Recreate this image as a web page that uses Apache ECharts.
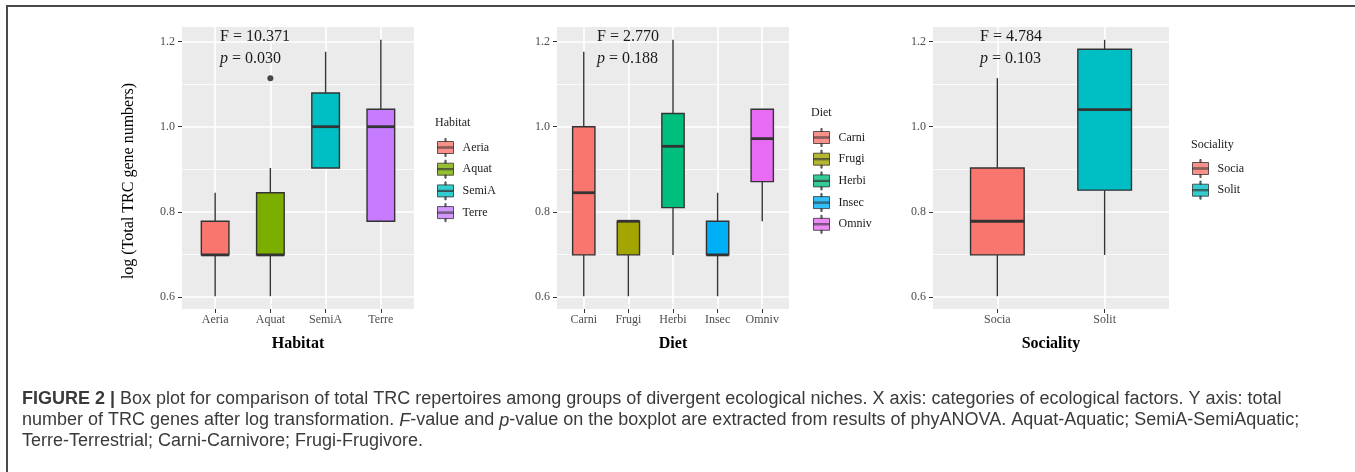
<!DOCTYPE html>
<html><head><meta charset="utf-8">
<script src="https://cdn.jsdelivr.net/npm/echarts@6/dist/echarts.min.js"></script>
<style>
html,body{margin:0;padding:0;background:#fff;}
#c{position:absolute;left:0;top:0;width:1355px;height:472px;}
#frame{position:absolute;left:6px;top:5px;width:1349px;height:467px;border-top:2px solid #4a4a4a;border-left:2px solid #4a4a4a;pointer-events:none;box-sizing:border-box;}
</style></head><body>
<div id="c"></div><div id="frame"></div>
<script>
// ---------- data ----------
const yTicks = [0.6, 0.8, 1.0, 1.2];
const yMinorTicks = [0.7, 0.9, 1.1];

const habitatCats   = ['Aeria', 'Aquat', 'SemiA', 'Terre'];
const habitatMin    = [0.602, 0.602, 0.903, 0.778];
const habitatQ1     = [0.699, 0.699, 0.903, 0.778];
const habitatMedian = [0.699, 0.699, 1.000, 1.000];
const habitatQ3     = [0.778, 0.845, 1.079, 1.041];
const habitatMax    = [0.845, 0.903, 1.176, 1.204];
const habitatOutlierCats   = ['Aquat'];
const habitatOutlierValues = [1.114];
const habitatF = '10.371', habitatP = '0.030';

const dietCats   = ['Carni', 'Frugi', 'Herbi', 'Insec', 'Omniv'];
const dietMin    = [0.602, 0.602, 0.699, 0.602, 0.778];
const dietQ1     = [0.699, 0.699, 0.810, 0.699, 0.871];
const dietMedian = [0.845, 0.778, 0.954, 0.699, 0.972];
const dietQ3     = [1.000, 0.778, 1.031, 0.778, 1.041];
const dietMax    = [1.176, 0.778, 1.204, 0.845, 1.041];
const dietF = '2.770', dietP = '0.188';

const socialCats   = ['Socia', 'Solit'];
const socialMin    = [0.602, 0.699];
const socialQ1     = [0.699, 0.851];
const socialMedian = [0.778, 1.040];
const socialQ3     = [0.903, 1.182];
const socialMax    = [1.114, 1.204];
const socialF = '4.784', socialP = '0.103';

// ---------- styling ----------
const habitatColors = ['#F8766D', '#7CAE00', '#00BFC4', '#C77CFF'];
const dietColors    = ['#F8766D', '#A3A500', '#00BF7D', '#00B0F6', '#E76BF3'];
const socialColors  = ['#F8766D', '#00BFC4'];
const SERIF = 'Liberation Serif';
const SANS = 'Liberation Sans';
const Y_MIN = 0.572, Y_MAX = 1.2341;
const STROKE = '#333333';
const legendIcon = 'path://M1 3 H17 V15 H1 Z M1 8.4 H17 V9.6 H1 Z M8.4 0 H9.6 V3 H8.4 Z M8.4 15 H9.6 V18 H8.4 Z';

const panels = [
  {cats: habitatCats, mn: habitatMin, q1: habitatQ1, md: habitatMedian, q3: habitatQ3, mx: habitatMax, colors: habitatColors,
   grid: {left: 182, top: 27, width: 232, height: 282}, name: 'Habitat', F: habitatF, P: habitatP,
   statPos: {left: 220, top: 25}, legendPos: {left: 437, top: 138}, legendTitlePos: {left: 435, top: 117}},
  {cats: dietCats, mn: dietMin, q1: dietQ1, md: dietMedian, q3: dietQ3, mx: dietMax, colors: dietColors,
   grid: {left: 557, top: 27, width: 232, height: 282}, name: 'Diet', F: dietF, P: dietP,
   statPos: {left: 597, top: 25}, legendPos: {left: 813, top: 128}, legendTitlePos: {left: 811, top: 107}},
  {cats: socialCats, mn: socialMin, q1: socialQ1, md: socialMedian, q3: socialQ3, mx: socialMax, colors: socialColors,
   grid: {left: 933, top: 27, width: 236, height: 282}, name: 'Sociality', F: socialF, P: socialP,
   statPos: {left: 980, top: 25}, legendPos: {left: 1192, top: 159}, legendTitlePos: {left: 1191, top: 139}}
];

function renderBox(colors) {
  return function (params, api) {
    const x = api.value(0);
    const lo = api.coord([x, api.value(1)]);
    const q1 = api.coord([x, api.value(2)]);
    const md = api.coord([x, api.value(3)]);
    const q3 = api.coord([x, api.value(4)]);
    const hi = api.coord([x, api.value(5)]);
    const w = api.size([0.5, 0])[0];
    const cx = q1[0];
    return {type: 'group', children: [
      {type: 'line', shape: {x1: cx, y1: lo[1], x2: cx, y2: q1[1]}, style: {stroke: STROKE, lineWidth: 1.4}},
      {type: 'line', shape: {x1: cx, y1: q3[1], x2: cx, y2: hi[1]}, style: {stroke: STROKE, lineWidth: 1.4}},
      {type: 'rect', shape: {x: cx - w / 2, y: q3[1], width: w, height: q1[1] - q3[1]},
       style: {fill: colors[params.dataIndex], stroke: STROKE, lineWidth: 1.4}},
      {type: 'line', shape: {x1: cx - w / 2, y1: md[1], x2: cx + w / 2, y2: md[1]}, style: {stroke: STROKE, lineWidth: 2.8}}
    ]};
  };
}

const grids = [], xAxes = [], yAxes = [], series = [], legends = [], titles = [];
panels.forEach((p, k) => {
  grids.push(Object.assign({show: true, backgroundColor: '#EBEBEB', borderWidth: 0, containLabel: false, outerBoundsMode: 'none'}, p.grid));
  const xs = p.cats.map((c, i) => i + 1);
  xAxes.push({
    type: 'value', gridIndex: k, min: 0.4, max: p.cats.length + 0.6,
    axisLine: {show: false}, splitLine: {show: false},
    axisTick: {show: true, customValues: xs, length: 4, lineStyle: {color: STROKE, width: 1}},
    axisLabel: {show: true, customValues: xs, margin: 5, fontFamily: SERIF, fontSize: 12, color: '#4D4D4D',
      formatter: v => p.cats[Math.round(v) - 1] || ''},
    name: p.name, nameLocation: 'middle', nameGap: 27,
    nameTextStyle: {fontFamily: SERIF, fontSize: 16, fontWeight: 'bold', color: '#000'}
  });
  const yAx = {
    type: 'value', gridIndex: k, min: Y_MIN, max: Y_MAX,
    axisLine: {show: false}, splitLine: {show: false},
    axisTick: {show: true, customValues: yTicks, length: 4, lineStyle: {color: STROKE, width: 1}},
    axisLabel: {show: true, customValues: yTicks, margin: 7, fontFamily: SERIF, fontSize: 12, color: '#4D4D4D',
      formatter: v => v.toFixed(1)}
  };
  if (k === 0) {
    yAx.name = 'log (Total TRC gene numbers)';
    yAx.nameLocation = 'middle';
    yAx.nameRotate = 90;
    yAx.nameGap = 45;
    yAx.nameTextStyle = {fontFamily: SERIF, fontSize: 16, color: '#000', padding: [0, 26, 0, 0]};
  }
  yAxes.push(yAx);

  // gridlines + boxes
  series.push({
    type: 'custom', xAxisIndex: k, yAxisIndex: k, z: 3, silent: true,
    renderItem: renderBox(p.colors),
    encode: {x: 0, y: [1, 2, 3, 4, 5]},
    data: p.cats.map((c, i) => [i + 1, p.mn[i], p.q1[i], p.md[i], p.q3[i], p.mx[i]]),
    markLine: {
      silent: true, z: 1, symbol: ['none', 'none'], label: {show: false}, emphasis: {disabled: true},
      lineStyle: {color: '#FFFFFF', type: 'solid'}, animation: false,
      data: [
        ...yTicks.map(v => ({yAxis: v, lineStyle: {width: 1.6, color: '#fff', type: 'solid'}})),
        ...yMinorTicks.map(v => ({yAxis: v, lineStyle: {width: 0.8, color: '#fff', type: 'solid'}})),
        ...xs.map(v => ({xAxis: v, lineStyle: {width: 1.6, color: '#fff', type: 'solid'}}))
      ]
    }
  });
  // legend dummy series
  p.cats.forEach((c, i) => {
    series.push({type: 'scatter', name: c, xAxisIndex: k, yAxisIndex: k, data: [], itemStyle: {color: p.colors[i]}});
  });
  legends.push({
    left: p.legendPos.left, top: p.legendPos.top, orient: 'vertical', padding: 0,
    itemWidth: 18, itemHeight: 18, itemGap: 2.7, selectedMode: false,
    icon: legendIcon, itemStyle: {borderColor: STROKE, borderWidth: 1},
    textStyle: {fontFamily: SERIF, fontSize: 12, color: '#1a1a1a', padding: [0, 0, 0, 3]},
    data: p.cats
  });
  titles.push({
    left: p.legendTitlePos.left, top: p.legendTitlePos.top, padding: 0, text: p.name,
    textStyle: {fontFamily: SERIF, fontSize: 12, fontWeight: 'normal', color: '#1a1a1a'}
  });
  titles.push({
    left: p.statPos.left, top: p.statPos.top, padding: 0,
    text: 'F = ' + p.F + '\n{i|p} = ' + p.P,
    textStyle: {fontFamily: SERIF, fontSize: 16, fontWeight: 'normal', color: '#1a1a1a', lineHeight: 22.6,
      rich: {i: {fontFamily: SERIF, fontSize: 16, fontStyle: 'italic', color: '#1a1a1a', lineHeight: 22.6}}}
  });
});

// outlier points
series.push({
  type: 'scatter', xAxisIndex: 0, yAxisIndex: 0, z: 4, silent: true, symbolSize: 6,
  itemStyle: {color: '#1a1a1a'},
  data: habitatOutlierCats.map((c, i) => [habitatCats.indexOf(c) + 1, habitatOutlierValues[i]])
});

// caption
const CAP = 18;
titles.push({
  left: 22, top: 389, padding: 0,
  text: '{b|FIGURE 2 |} Box plot for comparison of total TRC repertoires among groups of divergent ecological niches. X axis: categories of ecological factors. Y axis: total\n' +
        'number of TRC genes after log transformation. {i|F}-value and {i|p}-value on the boxplot are extracted from results of phyANOVA. Aquat-Aquatic; SemiA-SemiAquatic;\n' +
        'Terre-Terrestrial; Carni-Carnivore; Frugi-Frugivore.',
  textStyle: {fontFamily: SANS, fontSize: CAP, fontWeight: 'normal', color: '#3a3a3a', lineHeight: 21,
    rich: {
      b: {fontFamily: SANS, fontSize: CAP, fontWeight: 'bold', color: '#3a3a3a', lineHeight: 21},
      i: {fontFamily: SANS, fontSize: CAP, fontStyle: 'italic', color: '#3a3a3a', lineHeight: 21}
    }}
});

const chart = echarts.init(document.getElementById('c'), null, {renderer: 'canvas'});
chart.setOption({
  animation: false,
  backgroundColor: '#fff',
  grid: grids, xAxis: xAxes, yAxis: yAxes, series: series, legend: legends, title: titles
});
</script>
</body></html>
